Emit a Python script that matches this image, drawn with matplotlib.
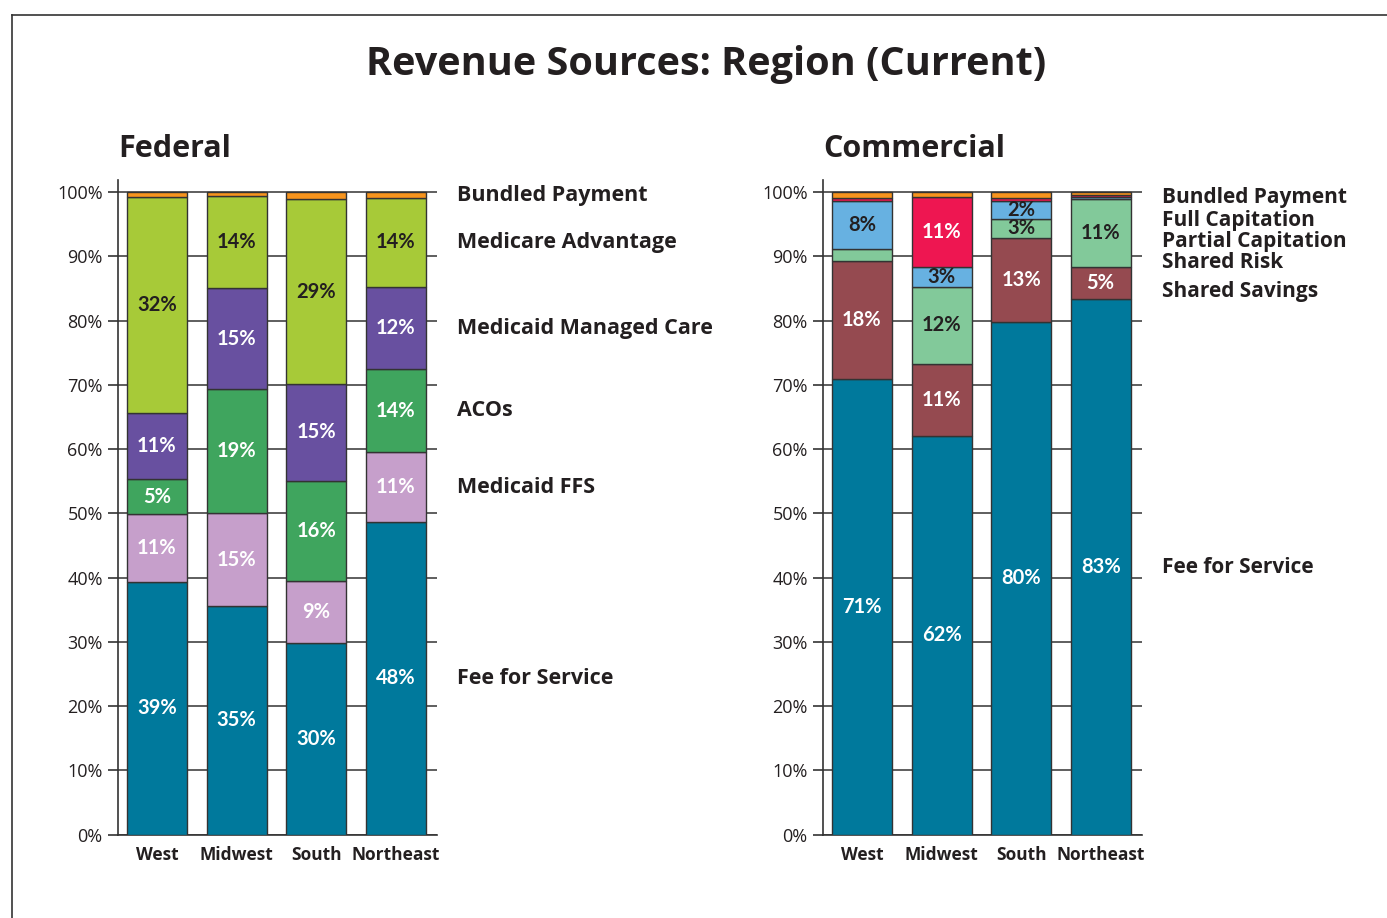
import numpy as np
import matplotlib.pyplot as plt
from matplotlib.lines import Line2D

"""Revenue Sources: Region (Current) - stacked bars, Federal / Commercial"""

regions = ['West', 'Midwest', 'South', 'Northeast']

# Federal, bottom to top
fed_series = ['Fee for Service', 'Medicaid FFS', 'ACOs', 'Medicaid Managed Care',
              'Medicare Advantage', 'Bundled Payment']
fed_ffs = [39.3, 35.5, 29.8, 48.6]
fed_medicaid_ffs = [10.6, 14.5, 9.7, 11.0]
fed_acos = [5.4, 19.3, 15.6, 12.8]
fed_mmc = [10.4, 15.8, 15.0, 12.9]
fed_ma = [33.6, 14.3, 28.8, 13.8]
fed_bundled = [0.7, 0.7, 1.1, 0.9]
fed_labels = [
    ['39%', '35%', '30%', '48%'],
    ['11%', '15%', '9%', '11%'],
    ['5%', '19%', '16%', '14%'],
    ['11%', '15%', '15%', '12%'],
    ['32%', '14%', '29%', '14%'],
    ['', '', '', ''],
]

# Commercial, bottom to top
com_series = ['Fee for Service', 'Shared Savings', 'Shared Risk', 'Partial Capitation',
              'Full Capitation', 'Bundled Payment']
com_ffs = [70.9, 62.0, 79.8, 83.3]
com_shared_savings = [18.4, 11.3, 13.1, 5.1]
com_shared_risk = [1.9, 12.0, 3.0, 10.6]
com_partial_cap = [7.4, 3.1, 2.8, 0.3]
com_full_cap = [0.5, 10.8, 0.4, 0.3]
com_bundled = [0.9, 0.8, 0.9, 0.4]
com_labels = [
    ['71%', '62%', '80%', '83%'],
    ['18%', '11%', '13%', '5%'],
    ['', '12%', '3%', '11%'],
    ['8%', '3%', '2%', ''],
    ['', '11%', '', ''],
    ['', '', '', ''],
]

fed_colors = ['#00799C', '#C69FCB', '#3FA55E', '#6850A0', '#A7CA38', '#F7941D']
fed_text_colors = ['white', 'white', 'white', 'white', '#231F20', '#231F20']
com_colors = ['#00799C', '#954A50', '#82C99A', '#67B1E1', '#EE1651', '#F7941D']
com_text_colors = ['white', 'white', '#231F20', '#231F20', 'white', '#231F20']

# legend label heights for the commercial panel (hand placed to avoid overlap)
com_label_y = [41.6, 84.6, 89.0, 92.3, 95.6, 99.2]

BAR_FONT = 'Lato'
TEXT_FONT = 'Open Sans'
DARK = '#231F20'

fig = plt.figure(figsize=(13.87, 9.18), dpi=100)

# frame around the figure (only top/left visible in reference)
fig.add_artist(Line2D([12/1387, 1], [1-15/918, 1-15/918], transform=fig.transFigure, color='#333333', lw=1.2))
fig.add_artist(Line2D([12/1387, 12/1387], [0, 1-15/918], transform=fig.transFigure, color='#333333', lw=1.2))

fig.text(0.509, 0.930, 'Revenue Sources: Region (Current)', ha='center', va='center',
         fontsize=28.5, fontweight='bold', family=TEXT_FONT, color=DARK)


def plot_panel(rect, title, series_vals, series_names, labels, colors, text_colors, legend_y, legend_fs):
    ax = fig.add_axes(rect)
    x = np.arange(len(regions))
    bottom = np.zeros(len(regions))
    for vals, color, labs, tc in zip(series_vals, colors, labels, text_colors):
        vals = np.array(vals)
        ax.bar(x, vals, bottom=bottom, width=0.755, color=color, edgecolor='#333333',
               linewidth=1.0, zorder=3)
        for xi, v, b, lab in zip(x, vals, bottom, labs):
            if lab:
                ax.text(xi, b + v/2, lab, ha='center', va='center', color=tc,
                        fontsize=14.5, fontweight='bold', family=BAR_FONT, zorder=4)
        bottom = bottom + vals

    for name, y in zip(series_names, legend_y):
        ax.text(3.77, y, name, ha='left', va='center', fontsize=legend_fs, fontweight='bold',
                family=TEXT_FONT, color=DARK, clip_on=False)

    ax.set_xlim(-0.49, 3.52)
    ax.set_ylim(0, 101.9)
    ax.set_yticks(np.arange(0, 101, 10))
    ax.set_yticklabels(['{}%'.format(v) for v in range(0, 101, 10)], family=TEXT_FONT,
                       fontsize=13, color=DARK)
    ax.set_xticks(x)
    ax.set_xticklabels(regions, family=TEXT_FONT, fontsize=12.5, fontweight='bold', color=DARK)
    ax.tick_params(axis='y', length=7, width=1.2, color='#333333', pad=4)
    ax.tick_params(axis='x', length=0, pad=8)
    ax.yaxis.grid(True, color='#333333', linewidth=1.1, zorder=0)
    ax.set_axisbelow(True)
    for side in ['top', 'right']:
        ax.spines[side].set_visible(False)
    for side in ['left', 'bottom']:
        ax.spines[side].set_color('#333333')
        ax.spines[side].set_linewidth(1.2)

    ax.text(-0.49, 106.7, title, ha='left', va='center', fontsize=22, fontweight='bold',
            family=TEXT_FONT, color=DARK, clip_on=False)
    return ax


fed_vals = [fed_ffs, fed_medicaid_ffs, fed_acos, fed_mmc, fed_ma, fed_bundled]
ne = np.array([v[3] for v in fed_vals])
fed_label_y = np.cumsum(ne) - ne/2

com_vals = [com_ffs, com_shared_savings, com_shared_risk, com_partial_cap, com_full_cap, com_bundled]

rect_h = (738 - 83.5) / 918
plot_panel([118/1387, 83.5/918, 319/1387, rect_h], 'Federal', fed_vals, fed_series,
           fed_labels, fed_colors, fed_text_colors, fed_label_y, 15.5)
plot_panel([823/1387, 83.5/918, 319/1387, rect_h], 'Commercial', com_vals, com_series,
           com_labels, com_colors, com_text_colors, com_label_y, 15)

plt.savefig('out.png', dpi=100)
